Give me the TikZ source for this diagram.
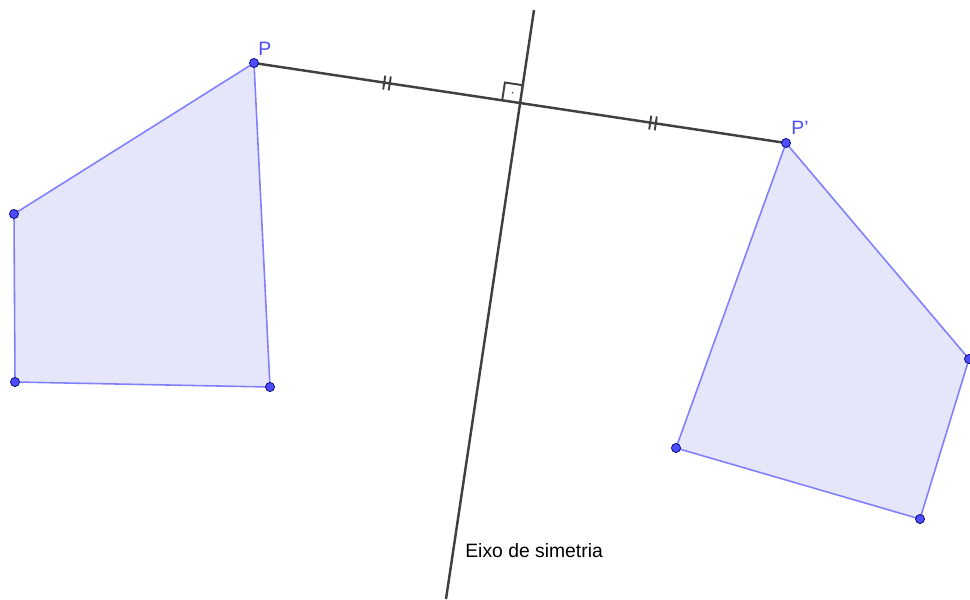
\documentclass[tikz,border=0pt]{standalone}
\usepackage{fontspec}
\setmainfont{Liberation Sans}
\usetikzlibrary{calc}
\definecolor{polyfill}{RGB}{230,230,250}
\definecolor{polyedge}{RGB}{128,128,255}
\definecolor{ptblue}{RGB}{77,77,255}
\definecolor{axisgray}{RGB}{64,64,64}
\begin{document}
\begin{tikzpicture}[x=0.02cm, y=-0.02cm,
    poly/.style={draw=polyedge, fill=polyfill, line width=0.9pt, line join=round},
    pt/.style={circle, fill=ptblue, draw=black!60!blue, line width=0.4pt, inner sep=0pt, minimum size=5.2pt},
    lin/.style={draw=axisgray, line width=1.4pt},
    tickmark/.style={draw=axisgray, line width=1.1pt},
    ptlbl/.style={text=ptblue, font=\fontsize{11}{13}\selectfont, inner sep=0pt, anchor=base west},
    lbl/.style={font=\fontsize{11}{13}\selectfont, inner sep=0pt, anchor=base west}
]
\useasboundingbox (0,0) rectangle (970,599);
% vertices
\coordinate (P) at (254,63);
\coordinate (A) at (14,214);
\coordinate (B) at (15,382);
\coordinate (C) at (270,387);
\coordinate (Q) at (786,143);
\coordinate (D) at (969,359);
\coordinate (E) at (920,519);
\coordinate (F) at (676,448);
\coordinate (top) at (534,10);
\coordinate (bot) at (446,599);
\coordinate (M) at ($(P)!0.5!(Q)$);

\draw[poly] (P) -- (A) -- (B) -- (C) -- cycle;
\draw[poly] (Q) -- (D) -- (E) -- (F) -- cycle;

\draw[lin] (P) -- (Q);
\draw[lin] (top) -- (bot);

% right angle
\draw[draw=axisgray, line width=1.1pt] ($(M)+(-17.8,-2.7)$) -- ($(M)+(-15.1,-20.5)$) -- ($(M)+(2.7,-17.8)$);
\fill[axisgray] ($(M)+(-7.5,-10.2)$) circle (0.5pt);

% equal marks
\foreach \t in {0.25,0.75} {
  \foreach \s in {-2.8,2.8} {
    \coordinate (c) at ($(P)!\t!(Q) + (\s*0.989,\s*0.149)$);
    \draw[tickmark] ($(c)+(-1.04,6.92)$) -- ($(c)+(1.04,-6.92)$);
  }
}

\foreach \v in {P,A,B,C,Q,D,E,F}
  \node[pt] (\v dot) at (\v) {};

\node[ptlbl] (Plbl) at (258,55) {P};
\node[ptlbl] (Qlbl) at (791,134) {P'};
\node[lbl] (axislbl) at (465,557) {Eixo de simetria};
\end{tikzpicture}
\end{document}
